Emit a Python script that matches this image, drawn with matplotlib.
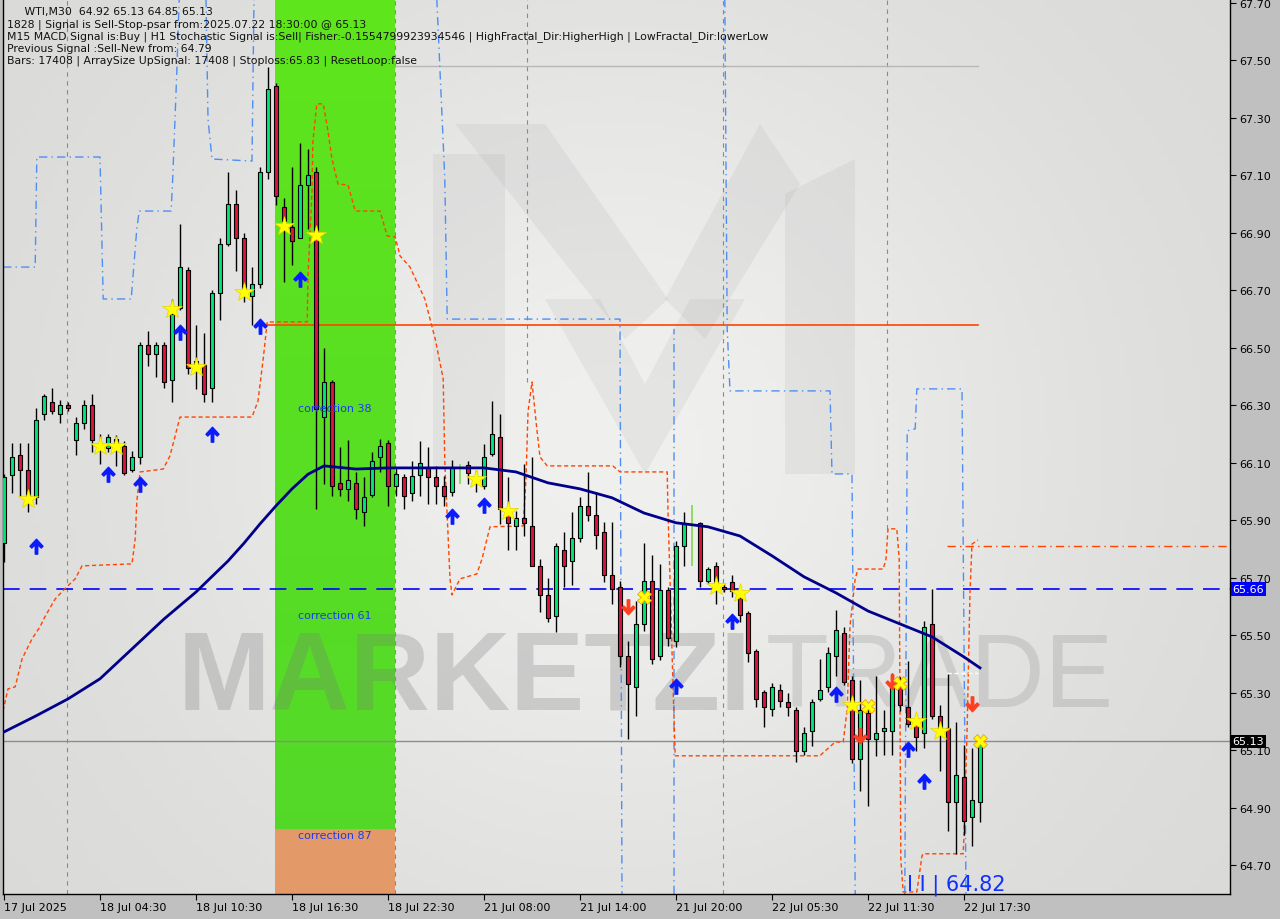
import matplotlib

matplotlib.use("Agg")
import matplotlib.pyplot as plt
import matplotlib.transforms as mtransforms
import numpy as np
from matplotlib.path import Path

OUT = "out.png"

# WTI M30 bars, index 0 = first visible bar (17 Jul 2025)
OPEN = [65.82, 66.058, 66.127, 66.075, 65.981, 66.27, 66.312, 66.27, 66.301, 66.179,
        66.238, 66.301, 66.162, 66.152, 66.183, 66.158, 66.075, 66.12, 66.51, 66.479,
        66.51, 66.388, 66.639, 66.771, 66.454, 66.44, 66.36, 66.691, 66.861, 67.001,
        66.882, 66.68, 66.722, 67.112, 67.411, 66.99, 66.921, 66.882, 67.067, 67.112,
        66.259, 66.381, 66.03, 66.009, 66.03, 65.929, 65.988, 66.12, 66.169, 66.019,
        66.05, 65.995, 66.058, 66.085, 66.05, 66.019, 65.998, 66.064, 66.092, 66.05,
        66.019, 66.131, 66.19, 65.922, 65.88, 65.908, 65.88, 65.741, 65.64, 65.567,
        65.797, 65.758, 65.838, 65.95, 65.918, 65.859, 65.71, 65.668, 65.428, 65.32,
        65.54, 65.689, 65.428, 65.657, 65.48, 65.811, 65.887, 65.891, 65.689, 65.741,
        65.668, 65.685, 65.63, 65.577, 65.445, 65.302, 65.243, 65.31, 65.268, 65.24,
        65.097, 65.167, 65.278, 65.32, 65.428, 65.508, 65.344, 65.069, 65.229, 65.139,
        65.167, 65.167, 65.327, 65.25, 65.187, 65.16, 65.539, 65.219, 65.177, 64.92,
        65.007, 64.868, 64.92]
HIGH = [66.06, 66.169, 66.169, 66.169, 66.291, 66.34, 66.36, 66.319, 66.312, 66.259,
        66.319, 66.339, 66.20, 66.20, 66.197, 66.176, 66.141, 66.52, 66.559, 66.52,
        66.52, 66.67, 66.931, 66.78, 66.58, 66.552, 66.701, 66.882, 67.112, 67.049,
        66.90, 66.781, 67.13, 67.477, 67.422, 67.021, 67.129, 67.213, 67.192, 67.129,
        66.50, 66.388, 66.155, 66.179, 66.068, 66.05, 66.138, 66.183, 66.179, 66.08,
        66.06, 66.106, 66.176, 66.155, 66.089, 66.054, 66.11, 66.096, 66.106, 66.075,
        66.166, 66.315, 66.27, 66.05, 65.932, 66.096, 66.12, 65.765, 65.70, 65.821,
        65.859, 65.93, 65.981, 66.068, 65.999, 65.894, 65.894, 65.689, 65.48, 65.619,
        65.821, 65.779, 65.748, 65.668, 65.828, 65.929, 65.953, 65.894, 65.737, 65.755,
        65.678, 65.709, 65.636, 65.584, 65.452, 65.31, 65.334, 65.33, 65.299, 65.25,
        65.181, 65.278, 65.417, 65.459, 65.588, 65.529, 65.358, 65.344, 65.254, 65.358,
        65.24, 65.368, 65.354, 65.41, 65.215, 65.55, 65.661, 65.257, 65.365, 65.198,
        65.118, 65.107, 65.13]
LOW = [65.755, 65.995, 65.984, 65.929, 65.957, 66.25, 66.27, 66.238, 66.28, 66.127,
       66.218, 66.138, 66.096, 66.138, 66.09, 66.058, 66.068, 66.096, 66.437, 66.40,
       66.36, 66.312, 66.63, 66.409, 66.357, 66.312, 66.312, 66.597, 66.854, 66.767,
       66.66, 66.58, 66.708, 67.088, 66.997, 66.729, 66.788, 66.882, 66.914, 65.939,
       66.026, 65.984, 65.984, 65.967, 65.904, 65.88, 65.981, 66.068, 65.95, 65.984,
       65.939, 65.967, 65.984, 65.957, 65.957, 65.95, 65.984, 66.026, 66.026, 65.998,
       66.009, 66.124, 65.887, 65.797, 65.797, 65.845, 65.741, 65.581, 65.546, 65.511,
       65.668, 65.675, 65.824, 65.897, 65.80, 65.685, 65.608, 65.39, 65.139, 65.219,
       65.515, 65.40, 65.414, 65.463, 65.46, 65.741, 65.741, 65.668, 65.678, 65.608,
       65.65, 65.633, 65.546, 65.407, 65.25, 65.181, 65.219, 65.25, 65.219, 65.059,
       65.083, 65.115, 65.271, 65.302, 65.358, 65.327, 65.055, 64.958, 64.906, 65.08,
       65.083, 65.083, 65.236, 65.18, 65.097, 65.107, 65.208, 65.027, 64.819, 64.739,
       64.805, 64.767, 64.85]
CLOSE = [66.05, 66.12, 66.075, 65.984, 66.249, 66.333, 66.28, 66.301, 66.291, 66.238,
         66.301, 66.179, 66.155, 66.19, 66.169, 66.064, 66.12, 66.51, 66.479, 66.51,
         66.381, 66.618, 66.781, 66.43, 66.43, 66.339, 66.691, 66.861, 67.001, 66.882,
         66.705, 66.722, 67.112, 67.401, 67.028, 66.941, 66.872, 67.067, 67.101, 66.287,
         66.381, 66.019, 66.009, 66.04, 65.939, 65.981, 66.106, 66.158, 66.019, 66.061,
         65.984, 66.054, 66.099, 66.05, 66.019, 65.984, 66.085, 66.064, 66.064, 66.04,
         66.12, 66.20, 65.939, 65.891, 65.908, 65.891, 65.741, 65.64, 65.56, 65.811,
         65.741, 65.838, 65.95, 65.918, 65.849, 65.709, 65.661, 65.428, 65.33, 65.54,
         65.689, 65.417, 65.657, 65.49, 65.811, 65.887, 65.887, 65.689, 65.73, 65.685,
         65.661, 65.654, 65.57, 65.438, 65.278, 65.25, 65.32, 65.27, 65.25, 65.097,
         65.16, 65.268, 65.31, 65.438, 65.518, 65.337, 65.069, 65.24, 65.139, 65.16,
         65.177, 65.323, 65.257, 65.191, 65.146, 65.529, 65.219, 65.174, 64.92, 65.014,
         64.854, 64.927, 65.13]

TICK_BARS = [0, 12, 24, 36, 48, 60, 72, 84, 96, 108, 120]
TICK_LABELS = ["17 Jul 2025", "18 Jul 04:30", "18 Jul 10:30", "18 Jul 16:30",
               "18 Jul 22:30", "21 Jul 08:00", "21 Jul 14:00", "21 Jul 20:00",
               "22 Jul 05:30", "22 Jul 11:30", "22 Jul 17:30"]
PRICE_TICKS = [64.70, 64.90, 65.10, 65.30, 65.50, 65.70, 65.90, 66.10, 66.30,
               66.50, 66.70, 66.90, 67.10, 67.30, 67.50, 67.70]

# moving average (navy)
MA_BARS = [0, 4, 8, 12, 16, 20, 24, 28, 30, 32, 34, 36, 38, 40, 44, 48, 52, 56, 60,
           64, 68, 72, 76, 80, 84, 88, 92, 96, 100, 104, 108, 112, 116, 120, 122]
MA_VALUES = [65.163, 65.219, 65.278, 65.348, 65.452, 65.556, 65.650, 65.758,
             65.820, 65.887, 65.950, 66.009, 66.060, 66.089, 66.078, 66.082,
             66.082, 66.082, 66.082, 66.068, 66.030, 66.009, 65.978, 65.925,
             65.891, 65.877, 65.845, 65.776, 65.703, 65.647, 65.584, 65.539,
             65.494, 65.424, 65.386]

# orange trailing stop (dashed)
STOP_BARS = [-0.12, 0.5, 1.4, 2.25, 3.5, 4.5, 5.1, 6.4, 7.6, 8.9, 9.75, 16, 16.4,
             16.6, 17, 19.9, 20.75, 22, 31, 31.75, 32.4, 32.9, 37.9, 38, 38.5, 38.6,
             39.1, 39.9, 40.4, 41, 41.75, 43, 43.9, 47, 47.9, 48.9, 49.5, 50.75, 52.6,
             53.9, 54.9, 55.1, 55.75, 56, 57, 59.1, 59.75, 60.75, 64.9, 65.25, 65.5,
             66, 66.6, 67, 67.9, 76.1, 77, 82.9, 83, 83.25, 83.6, 83.9, 102, 102.25,
             103.9, 104.9, 105.4, 105.75, 106.4, 106.75, 109.9, 110.25, 110.5, 111.6,
             111.9, 112.1, 112.4, 114.1, 114.75, 114.9, 119.9, 120, 120.4, 120.75,
             121, 121.75]
STOP_VALUES = [65.236, 65.313, 65.320, 65.417, 65.487, 65.529, 65.563, 65.626,
               65.661, 65.696, 65.741, 65.748, 65.835, 65.964, 66.068, 66.078,
               66.124, 66.259, 66.259, 66.315, 66.461, 66.590, 66.590, 66.750,
               67.042, 67.216, 67.349, 67.349, 67.272, 67.157, 67.070, 67.067,
               66.976, 66.976, 66.889, 66.886, 66.820, 66.781, 66.670, 66.531,
               66.392, 66.103, 65.696, 65.640, 65.696, 65.713, 65.765, 65.877,
               65.880, 66.044, 66.277, 66.381, 66.218, 66.120, 66.089, 66.089,
               66.068, 66.068, 65.929, 65.696, 65.348, 65.080, 65.080, 65.087,
               65.128, 65.128, 65.243, 65.532, 65.696, 65.730, 65.730, 65.765,
               65.870, 65.870, 65.765, 64.721, 64.606, 64.606, 64.732, 64.739,
               64.739, 64.801, 65.184, 65.650, 65.817, 65.831]

# blue channel (dash-dot), None = break
CHANNEL_BARS = [-0.12, 3.9, 4.1, 12, 12.4, 15.9, 16.6, 16.9, 20.9, 21.1, 21.6, 21.9, None,
                25.25, 25.5, 26, 31, 31.25, None,
                54.1, 55.1, 55.4, 59.9, 77, 77.25, None,
                83.75, 83.75, None,
                90.1, 90.4, 90.75, 103.25, 103.5, 106, 106.4, None,
                112.6, 112.9, 113.9, 114.1, 119.75, 120.25]
CHANNEL_VALUES = [66.781, 66.781, 67.164, 67.164, 66.670, 66.670, 66.914, 66.976,
                  66.976, 67.098, 67.460, 67.714, None,
                  67.714, 67.296, 67.157, 67.150, 67.714, None,
                  67.714, 67.088, 66.600, 66.600, 66.600, 64.599, None,
                  64.599, 66.566, None,
                  67.714, 66.566, 66.350, 66.350, 66.061, 66.061, 64.599, None,
                  64.599, 66.211, 66.218, 66.357, 66.357, 64.599]

UP_BARS = [4, 13, 17, 22, 26, 32, 37, 56, 60, 84, 91, 104, 113, 115]
UP_PRICES = [65.810, 66.061, 66.026, 66.555, 66.200, 66.576, 66.740, 65.915,
             65.953, 65.323, 65.549, 65.295, 65.104, 64.993]
DOWN_BARS = [78, 107, 111, 121]
DOWN_PRICES = [65.598, 65.149, 65.337, 65.261]
STAR_BARS = [3, 12, 14, 21, 24, 30, 35, 39, 59, 63, 89, 92, 106, 114, 117]
STAR_PRICES = [65.974, 66.158, 66.158, 66.635, 66.433, 66.694, 66.924, 66.893,
               66.044, 65.932, 65.671, 65.647, 65.257, 65.201, 65.167]
CROSS_BARS = [80, 108, 112, 122]
CROSS_PRICES = [65.633, 65.254, 65.334, 65.132]

# grey dashed verticals: bar position and the price where each one stops
SEPARATOR_BARS = [7.9, 48.9, 65.4, 89.9, 110.4]
SEPARATOR_FLOORS = [64.599, 64.599, 66.38, 64.599, 65.87]

ZONE_START, ZONE_END = 33.875, 48.875
ZONE_87 = 64.826
CORRECTIONS = [("correction 38", 66.29), ("correction 61", 65.57), ("correction 87", 64.805)]

SIGNAL_PRICE = 65.66
LAST_PRICE = 65.13
RESIST_PRICE = 66.58
STOPLOSS_PRICE = 65.81
TOP_PRICE = 67.48

INFO = ["     WTI,M30  64.92 65.13 64.85 65.13",
        "1828 | Signal is Sell-Stop-psar from:2025.07.22 18:30:00 @ 65.13",
        "M15 MACD Signal is:Buy | H1 Stochastic Signal is:Sell| Fisher:-0.1554799923934546 "
        "| HighFractal_Dir:HigherHigh | LowFractal_Dir:lowerLow",
        "Previous Signal :Sell-New from: 64.79",
        "Bars: 17408 | ArraySize UpSignal: 17408 | Stoploss:65.83 | ResetLoop:false"]

ARROW = Path([(-0.16, -1.0), (0.16, -1.0), (0.16, 0.25), (0.62, -0.2), (0.85, 0.03),
              (0.0, 0.95), (-0.85, 0.03), (-0.62, -0.2), (-0.16, 0.25), (-0.16, -1.0)],
             closed=True)
ARROW_DOWN = Path(ARROW.vertices * np.array([1, -1]), closed=True)


def main():
    fig = plt.figure(figsize=(12.8, 9.2), dpi=100, facecolor="#c0c0c0")
    ax = fig.add_axes([3 / 1280, 25 / 920, 1227 / 1280, 895 / 920])
    ax.set_xlim(-0.125, 153.25)
    ax.set_ylim(64.599, 67.714)

    # background with soft highlight
    gy, gx = np.mgrid[0:1:200j, 0:1:200j]
    d = ((gx - 0.5) / 0.45) ** 2 + ((gy - 0.5) / 0.6) ** 2
    v = 0.85 + 0.09 * np.exp(-d * 1.3)
    ax.imshow(np.dstack([v, v, v * 0.995]), extent=[0, 1, 0, 1], transform=ax.transAxes,
              aspect="auto", zorder=0, origin="lower")

    # watermark logo
    logo = [[(433, 155), (505, 155), (505, 470), (433, 470)],
            [(785, 195), (855, 160), (855, 475), (785, 475)],
            [(455, 125), (545, 125), (668, 300), (625, 340)],
            [(665, 300), (760, 125), (800, 185), (705, 340)],
            [(545, 300), (600, 300), (645, 385), (690, 300), (745, 300), (645, 475)]]
    for poly in logo:
        pts = [((x - 3) / 1227, (895 - y) / 895) for x, y in poly]
        ax.add_patch(plt.Polygon(pts, closed=True, transform=ax.transAxes,
                                 color="#9a9a9a", alpha=0.13, lw=0, zorder=0.5))

    # correction zone
    grad = np.linspace(0, 1, 100)[:, None]
    top = np.array([0.37, 0.90, 0.11])
    bot = np.array([0.33, 0.85, 0.16])
    col = top[None, None, :] * (1 - grad[..., None]) + bot[None, None, :] * grad[..., None]
    ax.imshow(np.repeat(col, 2, axis=1), extent=[ZONE_START, ZONE_END, ZONE_87, 67.714],
              aspect="auto", zorder=1, origin="upper")
    ax.fill_between([ZONE_START, ZONE_END], 64.599, ZONE_87, color="#e39a68", lw=0, zorder=1)
    for label, price in CORRECTIONS:
        ax.text((ZONE_START + ZONE_END) / 2, price, label, color="#1a3cf0", fontsize=8,
                ha="center", va="center", zorder=6)

    ax.text(0.142, 0.24, "MARKETZI", transform=ax.transAxes, fontsize=80,
            fontweight="bold", family="Liberation Sans", color="#7a7a7a", alpha=0.28,
            va="center", ha="left", zorder=1.5)
    ax.text(0.622, 0.24, "TRADE", transform=ax.transAxes, fontsize=74,
            family="Liberation Sans", color="#8a8a8a", alpha=0.25,
            va="center", ha="left", zorder=1.5)

    # separators and levels
    for b, floor in zip(SEPARATOR_BARS, SEPARATOR_FLOORS):
        ax.plot([b, b], [floor, 67.714], color="#8a8a8a", lw=0.8, ls=(0, (4, 4)), zorder=2)
    ax.plot([ZONE_END, 121.75], [TOP_PRICE, TOP_PRICE], color="#b8b8b8", lw=1, zorder=2)
    ax.plot([31.6, 121.75], [RESIST_PRICE, RESIST_PRICE], color="#ff4500", lw=1.2, zorder=2)
    ax.plot([117.9, 152.9], [STOPLOSS_PRICE, STOPLOSS_PRICE], color="#ff4500", lw=1,
            ls=(0, (6, 3, 1, 3)), zorder=2)
    ax.axhline(LAST_PRICE, color="#8c8c8c", lw=1, zorder=2)
    ax.axhline(SIGNAL_PRICE, color="#0000ff", lw=1.2, ls=(0, (10, 6)), zorder=2)

    cb = np.array([np.nan if b is None else b for b in CHANNEL_BARS], dtype=float)
    cv = np.array([np.nan if b is None else b for b in CHANNEL_VALUES], dtype=float)
    ax.plot(cb, cv, color="#4f8ef5", lw=1, ls=(0, (6, 3, 1, 3)), zorder=2)
    ax.plot(STOP_BARS, STOP_VALUES, color="#ff4500", lw=1, ls=(0, (3, 2)), zorder=2)

    # candles
    o, h, l, c = map(np.array, (OPEN, HIGH, LOW, CLOSE))
    idx = np.arange(len(o))
    doji = np.isclose(o, c)
    ax.vlines(idx[~doji], l[~doji], h[~doji], color="black", lw=1, zorder=3)
    ax.vlines(idx[doji], l[doji], h[doji], color="#7ed84a", lw=1.2, zorder=3)
    up = (c > o) & ~doji
    dn = (c < o) & ~doji
    ax.bar(idx[up], c[up] - o[up], bottom=o[up], width=0.62, color="#00e676",
           edgecolor="black", lw=0.8, zorder=4)
    ax.bar(idx[dn], c[dn] - o[dn], bottom=o[dn], width=0.62, color="#dc143c",
           edgecolor="black", lw=0.8, zorder=4)

    ax.plot(MA_BARS, MA_VALUES, color="#00008b", lw=2, zorder=5)

    # signals
    ax.plot(UP_BARS, UP_PRICES, ls="none", marker=ARROW, ms=11, color="#0a1cff", zorder=6)
    ax.plot(DOWN_BARS, DOWN_PRICES, ls="none", marker=ARROW_DOWN, ms=11, color="#ff4020",
            zorder=6)
    ax.plot(STAR_BARS, STAR_PRICES, ls="none", marker="*", ms=15, color="#ffff00",
            mec="#e6d200", mew=0.5, zorder=6)
    ax.plot(CROSS_BARS, CROSS_PRICES, ls="none", marker="X", ms=10, color="#ffff00",
            mec="#f0a000", mew=0.6, zorder=6)

    ax.plot([117.9, 121.75], [65.368, 65.368], color="white", lw=1, ls=(0, (3, 2)), zorder=5)
    ax.text(112.9, 64.634, "I I | 64.82", color="#1030ff", fontsize=15, ha="left",
            va="center", zorder=6)

    # axes styling
    ax.yaxis.tick_right()
    ax.set_yticks(PRICE_TICKS)
    ax.set_yticklabels([f"{p:.2f}" for p in PRICE_TICKS])
    ax.set_xticks(TICK_BARS)
    ax.set_xticklabels(TICK_LABELS, ha="left")
    ax.tick_params(axis="y", direction="out", length=4, pad=3, labelsize=8, colors="black")
    ax.tick_params(axis="x", direction="out", length=4, pad=2, labelsize=8, colors="black")
    for s in ax.spines.values():
        s.set_color("black")
        s.set_linewidth(1)
    ax.spines["top"].set_visible(False)

    tr = mtransforms.blended_transform_factory(ax.transAxes, ax.transData)
    ax.text(1.002, SIGNAL_PRICE, f"{SIGNAL_PRICE:.2f}", transform=tr, color="white",
            fontsize=8, va="center", ha="left", zorder=7,
            bbox=dict(boxstyle="square,pad=0.15", fc="#0000ff", ec="none"))
    ax.text(1.002, LAST_PRICE, f"{LAST_PRICE:.2f}", transform=tr, color="white",
            fontsize=8, va="center", ha="left", zorder=7,
            bbox=dict(boxstyle="square,pad=0.15", fc="black", ec="none"))

    for k, line in enumerate(INFO):
        fig.text(7 / 1280, 1 - (12 + 12.3 * k) / 920, line, fontsize=7.8, color="#111111",
                 va="center", ha="left")

    fig.savefig(OUT, dpi=100, facecolor=fig.get_facecolor())


if __name__ == "__main__":
    main()
